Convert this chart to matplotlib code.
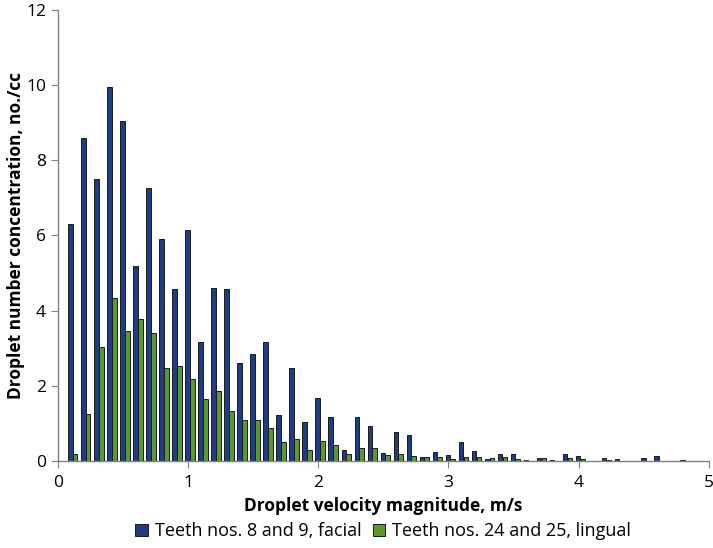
import matplotlib.pyplot as plt
import numpy as np

# velocity bins (m/s)
velocity = np.round(np.arange(1, 49) * 0.1, 1)

facial = [6.30, 8.60, 7.49, 9.95, 9.04, 5.18, 7.25, 5.90, 4.56, 6.14,
          3.15, 4.59, 4.56, 2.61, 2.85, 3.16, 1.22, 2.48, 1.03, 1.68,
          1.17, 0.30, 1.17, 0.94, 0.20, 0.77, 0.70, 0.11, 0.24, 0.16,
          0.50, 0.26, 0.05, 0.19, 0.17, 0.03, 0.08, 0.03, 0.18, 0.12,
          0.00, 0.08, 0.04, 0.00, 0.08, 0.12, 0.00, 0.03]

lingual = [0.18, 1.26, 3.02, 4.34, 3.45, 3.77, 3.40, 2.48, 2.53, 2.18,
           1.64, 1.85, 1.34, 1.08, 1.10, 0.87, 0.51, 0.59, 0.28, 0.53,
           0.43, 0.18, 0.34, 0.34, 0.16, 0.19, 0.14, 0.11, 0.11, 0.05,
           0.11, 0.11, 0.08, 0.11, 0.05, 0.00, 0.07, 0.00, 0.08, 0.04,
           0.00, 0.03, 0.00, 0.00, 0.00, 0.00, 0.00, 0.00]

labels = ["Teeth nos. 8 and 9, facial", "Teeth nos. 24 and 25, lingual"]

plt.rcParams['font.family'] = ['Open Sans', 'DejaVu Sans']
plt.rcParams['font.size'] = 12.5

fig = plt.figure(figsize=(7.13, 5.48), dpi=100)
ax = fig.add_axes([0.081, 0.159, 0.913, 0.823])

w = 0.035
ax.bar(velocity - 0.003, facial, width=w, color="#1f3d87", edgecolor="#1a1a1a",
       linewidth=0.7, label=labels[0])
ax.bar(velocity + 0.034, lingual, width=w, color="#5a9a2b", edgecolor="#1a1a1a",
       linewidth=0.7, label=labels[1])

ax.set_xlim(0, 5)
ax.set_ylim(0, 12)
ax.set_xticks(range(0, 6))
ax.set_yticks(range(0, 13, 2))
for s in ["top", "right"]:
    ax.spines[s].set_visible(False)
for s in ["left", "bottom"]:
    ax.spines[s].set_color("#808080")
    ax.spines[s].set_linewidth(1.0)
ax.tick_params(direction="out", length=5, color="#808080", labelsize=12.5)
ax.tick_params(axis="x", pad=5)

ax.set_xlabel("Droplet velocity magnitude, m/s", fontweight="bold", fontsize=12.5, va="center")
ax.xaxis.set_label_coords(0.5, -0.1)
ax.set_ylabel("Droplet number concentration, no./cc", fontweight="bold", fontsize=12.5, va="center")
ax.yaxis.set_label_coords(-0.064, 0.5)

ax.legend(loc="center", bbox_to_anchor=(0.5, -0.156), ncol=2, frameon=False,
          handlelength=0.7, handleheight=0.7, handletextpad=0.4, columnspacing=0.6,
          fontsize=13, borderpad=0)

plt.savefig("out.png", dpi=100)
